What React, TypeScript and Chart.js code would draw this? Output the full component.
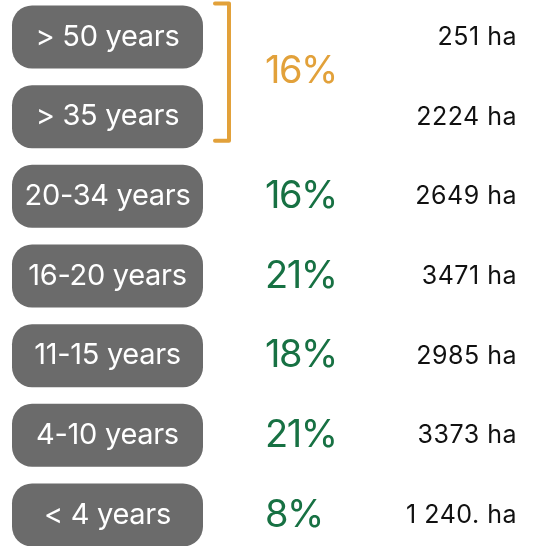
import React, { useEffect, useRef } from 'react';
import { Chart, registerables } from 'chart.js';

Chart.register(...registerables);

// ---- data ----
const categories = ['> 50 years', '> 35 years', '20-34 years', '16-20 years', '11-15 years', '4-10 years', '< 4 years'];
const areaHa = [251, 2224, 2649, 3471, 2985, 3373, 1240];
const areaLabels = ['251 ha', '2224 ha', '2649 ha', '3471 ha', '2985 ha', '3373 ha', '1 240. ha'];
const sharePct: (number | null)[] = [null, null, 16, 21, 18, 21, 8];
const groupedRows = [0, 1];
const groupSharePct = 16;

// ---- style ----
const FONT = 'Inter, "Open Sans", sans-serif';
const PILL = '#6b6b6b';
const GREEN = '#177143';
const ORANGE = '#e2a13a';
const INK = '#111111';

const setSpacing = (ctx: any, v: string) => {
  ctx.letterSpacing = v;
};

const labelPlugin = {
  id: 'ageLabels',
  afterDatasetsDraw(chart: any) {
    const { ctx } = chart;
    const y = chart.scales.y;
    ctx.save();
    categories.forEach((cat, i) => {
      const yc = y.getPixelForValue(i);
      // pill badge
      ctx.fillStyle = PILL;
      ctx.beginPath();
      ctx.roundRect(12, yc - 31.5, 191, 63, 20);
      ctx.fill();
      // label text
      const ls = 29;
      ctx.font = `400 ${ls}px ${FONT}`;
      setSpacing(ctx, '-0.3px');
      ctx.fillStyle = '#ffffff';
      ctx.textAlign = 'center';
      ctx.textBaseline = 'alphabetic';
      ctx.fillText(cat, 107.5, yc + ls * 0.727 / 2 - 2);
      // share
      const p = sharePct[i];
      if (p != null) {
        const ps = 38;
        ctx.font = `400 ${ps}px ${FONT}`;
        setSpacing(ctx, '-1.5px');
        ctx.fillStyle = GREEN;
        ctx.textAlign = 'left';
        ctx.fillText(`${p}%`, 265, yc + ps * 0.727 / 2 - 2);
      }
      // area
      const hs = 25;
      ctx.font = `400 ${hs}px ${FONT}`;
      setSpacing(ctx, '0.5px');
      ctx.fillStyle = INK;
      ctx.textAlign = 'right';
      ctx.fillText(areaLabels[i], 517, yc + hs * 0.727 / 2 - 1);
    });
    // bracket for grouped rows
    const yTop = y.getPixelForValue(groupedRows[0]) - 33.5;
    const yBot = y.getPixelForValue(groupedRows[groupedRows.length - 1]) + 24;
    ctx.strokeStyle = ORANGE;
    ctx.lineWidth = 4;
    ctx.lineJoin = 'round';
    ctx.lineCap = 'round';
    ctx.beginPath();
    ctx.moveTo(215, yTop);
    ctx.lineTo(229, yTop);
    ctx.lineTo(229, yBot);
    ctx.lineTo(215, yBot);
    ctx.stroke();
    const ps = 38;
    ctx.font = `400 ${ps}px ${FONT}`;
    setSpacing(ctx, '-1.5px');
    ctx.fillStyle = ORANGE;
    ctx.textAlign = 'left';
    const mid = (y.getPixelForValue(groupedRows[0]) + y.getPixelForValue(groupedRows[groupedRows.length - 1])) / 2;
    ctx.fillText(`${groupSharePct}%`, 265, mid - 8 + ps * 0.727 / 2);
    setSpacing(ctx, '0px');
    ctx.restore();
  },
};

export default function App() {
  const ref = useRef<HTMLCanvasElement | null>(null);
  useEffect(() => {
    if (!ref.current) return;
    const chart = new Chart(ref.current, {
      type: 'bar',
      data: {
        labels: categories,
        datasets: [
          {
            label: 'Area (ha)',
            data: areaHa,
            backgroundColor: 'rgba(0,0,0,0)',
            borderWidth: 0,
          },
        ],
      },
      options: {
        indexAxis: 'y',
        animation: false,
        responsive: true,
        maintainAspectRatio: false,
        layout: { padding: { top: 37, bottom: 31, left: 0, right: 0 } },
        plugins: { legend: { display: false }, tooltip: { enabled: false } },
        scales: {
          y: { type: 'category', display: false, offset: false, grid: { display: false } },
          x: { type: 'linear', display: false, min: 0, max: 4000 },
        },
      },
      plugins: [labelPlugin],
    });
    return () => chart.destroy();
  }, []);
  return (
    <div style={{ position: 'absolute', left: 0, top: 0, width: 534, height: 546, background: '#ffffff' }}>
      <canvas ref={ref} />
    </div>
  );
}
